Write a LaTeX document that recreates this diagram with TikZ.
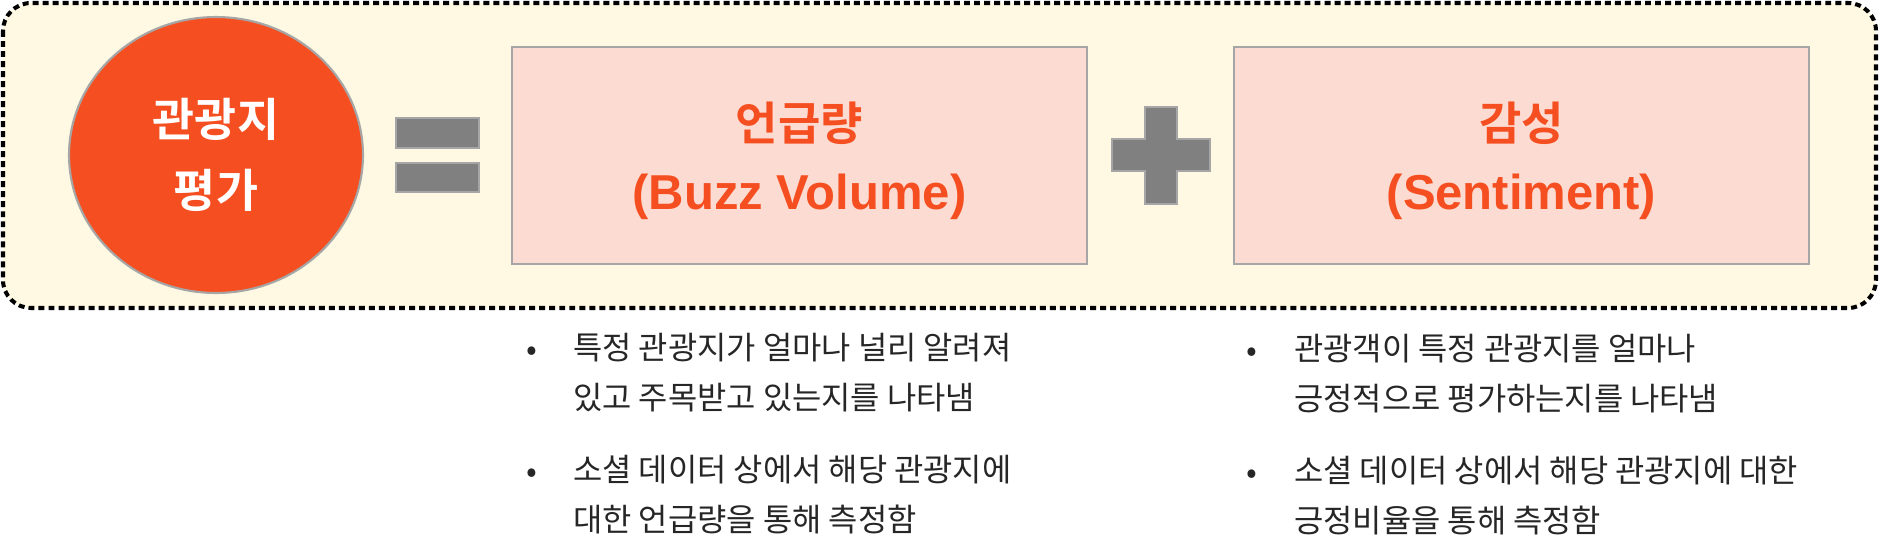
\documentclass[tikz,border=0pt]{standalone}
\usepackage{fontspec}
\setmainfont{Noto Sans CJK KR}[BoldFont={* Bold}]
\newfontfamily\latinbold{Liberation Sans}[BoldFont={* Bold}]
\usetikzlibrary{shapes.geometric}
\definecolor{evalorange}{HTML}{F54F21}
\definecolor{panelpink}{HTML}{FCDCD2}
\definecolor{edgegray}{HTML}{A6A6A6}
\definecolor{signgray}{HTML}{808080}
\definecolor{creamfill}{HTML}{FFF8E2}
\definecolor{notetext}{HTML}{262626}
\begin{document}
\begin{tikzpicture}[x=0.02cm,y=-0.02cm,
  panel/.style={draw=edgegray,line width=1.2pt,fill=panelpink,minimum width=11.5cm,minimum height=4.34cm},
  paneltitle/.style={align=center,text=evalorange,font=\bfseries\fontsize{26.2}{39.3}\selectfont},
  sign/.style={draw=edgegray,line width=1.2pt,fill=signgray},
  note/.style={font=\fontsize{18.1}{27.9}\selectfont,text=notetext,align=left,anchor=base west,inner sep=0pt},
  bulletdot/.style={font=\fontsize{18.1}{27.9}\selectfont,text=notetext,anchor=base,inner sep=0pt}]
\useasboundingbox (0,0) rectangle (1881,558);
% dotted frame
\draw[line width=2.3pt,dash pattern=on 3.4pt off 2.3pt,rounded corners=0.56cm,fill=creamfill] (3,3) rectangle (1876,308);
% left side of the equation
\node[ellipse,draw=edgegray,line width=1.2pt,fill=evalorange,minimum width=5.88cm,minimum height=5.52cm,
  align=center,text=white,font=\bfseries\fontsize{26}{40.4}\selectfont] (evalcircle) at (216,155) {관광지\\평가};
% equals sign
\draw[sign] (396,118) rectangle (479,148);
\draw[sign] (396,163) rectangle (479,192);
% the two terms
\node[panel] (buzzbox) at (799.5,155.5) {};
\node[paneltitle] (buzztitle) at (799.5,160.5) {언급량\\{\latinbold\bfseries\fontsize{27.9}{39.3}\selectfont (Buzz Volume)}};
\node[panel] (sentbox) at (1521.5,155.5) {};
\node[paneltitle] (senttitle) at (1521.5,160.5) {감성\\{\latinbold\bfseries\fontsize{27.9}{39.3}\selectfont (Sentiment)}};
% plus sign
\draw[sign] (1145,107) -- (1177,107) -- (1177,139) -- (1210,139) -- (1210,171) -- (1177,171) -- (1177,204)
  -- (1145,204) -- (1145,171) -- (1112,171) -- (1112,139) -- (1145,139) -- cycle;
% notes under the terms (base = last line)
\node[bulletdot] (buzzdotA) at (532,360) {•};
\node[note] (buzznoteA) at (573,409) {특정 관광지가 얼마나 널리 알려져\\있고 주목받고 있는지를 나타냄};
\node[bulletdot] (buzzdotB) at (532,482) {•};
\node[note] (buzznoteB) at (573,531) {소셜 데이터 상에서 해당 관광지에\\대한 언급량을 통해 측정함};
\node[bulletdot] (sentdotA) at (1252,361) {•};
\node[note] (sentnoteA) at (1294,410) {관광객이 특정 관광지를 얼마나\\긍정적으로 평가하는지를 나타냄};
\node[bulletdot] (sentdotB) at (1252,483) {•};
\node[note] (sentnoteB) at (1294,532) {소셜 데이터 상에서 해당 관광지에 대한\\긍정비율을 통해 측정함};
\end{tikzpicture}
\end{document}
